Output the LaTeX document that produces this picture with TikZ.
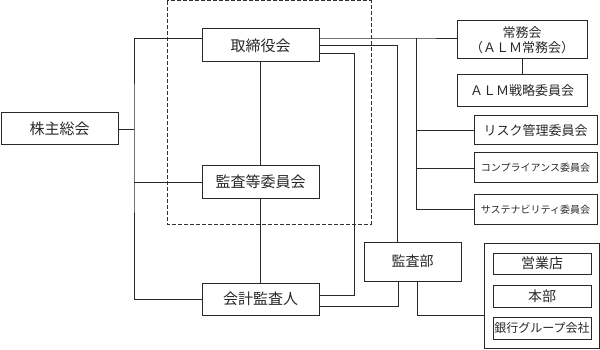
\documentclass[tikz,border=0pt]{standalone}
\usepackage{fontspec}
\setmainfont{Noto Sans CJK JP}
\usepackage{tikz}
\definecolor{inkgray}{RGB}{40,40,40}
\definecolor{dashgray}{RGB}{50,50,50}

\begin{document}
\begin{tikzpicture}[x=1pt,y=-1pt,
  box/.style={draw=inkgray,line width=1pt,inner sep=0pt,text=inkgray,align=center},
  bigtext/.style={font=\fontsize{15}{18}\selectfont},
  midtext/.style={font=\fontsize{13}{15}\selectfont},
  smalltext/.style={font=\fontsize{10}{12}\selectfont},
  link/.style={draw=inkgray,line width=0.9pt}]
  \useasboundingbox (0,0) rectangle (600,350);
  % audit committee frame
  \draw[dashgray,line width=1pt,dash pattern=on 4pt off 2pt] (167,1) rectangle (371,224);
  % left column
  \node[box,bigtext,minimum width=117,minimum height=32] (kabunushi) at (59.5,129) {株主総会};
  \node[box,bigtext,minimum width=117,minimum height=33] (torishimari) at (260.5,45.5) {取締役会};
  \node[box,bigtext,minimum width=117,minimum height=32] (kansatou) at (260.5,182) {監査等委員会};
  \node[box,bigtext,minimum width=117,minimum height=32] (kaikei) at (260.5,299) {会計監査人};
  % committees
  \node[box,midtext,minimum width=130,minimum height=38] (joumu) at (522,40) {常務会\\（ＡＬＭ常務会）};
  \node[box,midtext,minimum width=130,minimum height=32] (alm) at (522,91) {ＡＬＭ戦略委員会};
  \node[box,midtext,minimum width=123,minimum height=29] (risk) at (535.5,130.5) {リスク管理委員会};
  \node[box,smalltext,minimum width=123,minimum height=30] (comp) at (535.5,168) {コンプライアンス委員会};
  \node[box,smalltext,minimum width=123,minimum height=29] (sustain) at (535.5,209.5) {サステナビリティ委員会};
  % internal audit
  \node[box,font=\fontsize{14}{16}\selectfont,minimum width=97,minimum height=39] (kansabu) at (412.5,261.5) {監査部};
  \node[box,minimum width=115,minimum height=105] (group) at (541.5,295.5) {};
  \node[box,font=\fontsize{14}{16}\selectfont,minimum width=98,minimum height=21] (eigyo) at (542,263.5) {営業店};
  \node[box,font=\fontsize{14}{16}\selectfont,minimum width=98,minimum height=22] (honbu) at (542,296) {本部};
  \node[box,font=\fontsize{12}{14}\selectfont,minimum width=98,minimum height=22] (ginko) at (542,328) {銀行グループ会社};
  % connectors
  \coordinate (bus) at (134,128);
  \coordinate (riser) at (416,38);
  \coordinate (auditlink) at (354,53);
  \draw[link] (kabunushi.east) -- (kabunushi.east -| bus);
  \draw[link] (torishimari.west |- riser) -| (bus) |- (kaikei.west);
  \draw[link] (kansatou.west) -- (kansatou.west -| bus);
  \draw[link] (torishimari) -- (kansatou) -- (kaikei);
  \draw[link] (torishimari.east |- riser) -- (riser) -- (joumu.west |- riser);
  \draw[link] (riser) |- (sustain.west);
  \draw[link] (risk.west) -- (risk.west -| riser);
  \draw[link] (comp.west) -- (comp.west -| riser);
  \draw[link] (joumu) -- (alm);
  \draw[link] (torishimari.east) -| ([xshift=-15.5pt]kansabu.north);
  \draw[link] (torishimari.east |- auditlink) -- (auditlink) |- ([yshift=4pt]kaikei.east);
  \draw[link] ([yshift=-7pt]kaikei.east) -| ([xshift=-14pt]kansabu.south);
  \draw[link] ([xshift=4.5pt]kansabu.south) |- ([yshift=-19.5pt]group.west);
\end{tikzpicture}
\end{document}
